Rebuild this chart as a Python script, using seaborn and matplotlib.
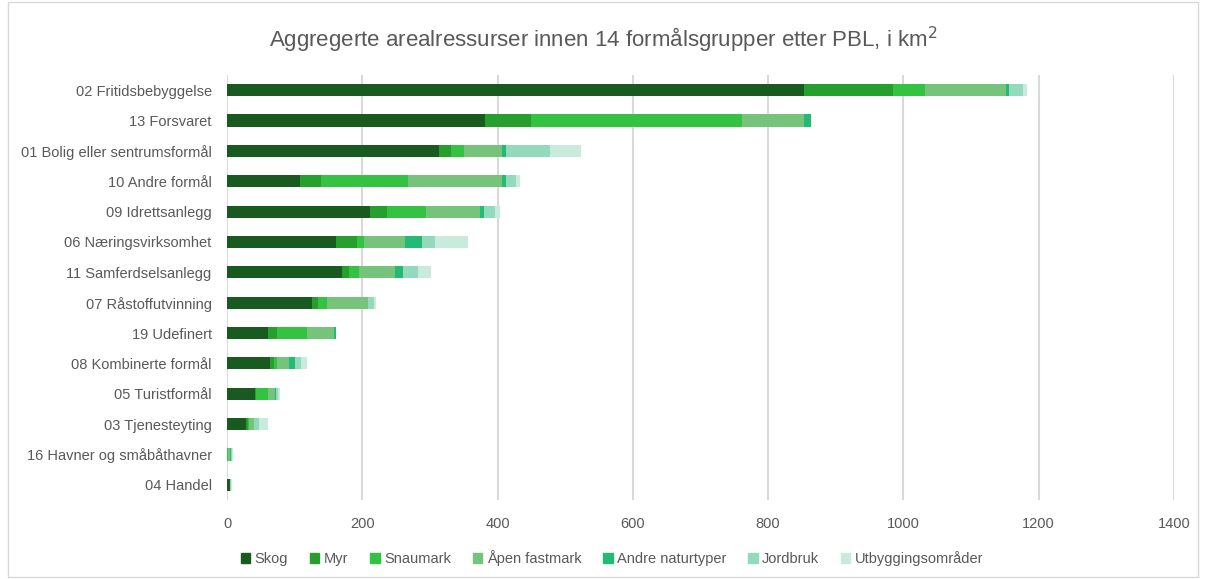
import numpy as np
import pandas as pd
import matplotlib
matplotlib.use("Agg")
import matplotlib.pyplot as plt
import matplotlib.patches as mpatches
import seaborn as sns

categories = ["02 Fritidsbebyggelse", "13 Forsvaret", "01 Bolig eller sentrumsformål",
              "10 Andre formål", "09 Idrettsanlegg", "06 Næringsvirksomhet",
              "11 Samferdselsanlegg", "07 Råstoffutvinning", "19 Udefinert",
              "08 Kombinerte formål", "05 Turistformål", "03 Tjenesteyting",
              "16 Havner og småbåthavner", "04 Handel"]

series_names = ["Skog", "Myr", "Snaumark", "Åpen fastmark", "Andre naturtyper",
                "Jordbruk", "Utbyggingsområder"]

skog     = [853, 382, 313, 108, 211, 161, 170, 125, 61, 64, 41, 28.5, 0.5, 4]
myr      = [131, 68, 18, 31, 26, 31, 11, 9, 13, 6, 2, 3, 0, 0.5]
snaumark = [48, 312, 20, 129, 57, 11, 13.5, 14, 45, 4, 17, 1, 0.5, 0]
apen     = [120, 91, 56, 139, 80, 60, 53.5, 61, 39, 18, 11, 8, 4, 0.5]
andre    = [4, 11, 6, 6, 6, 25, 12, 0, 3, 9, 1, 0, 0.5, 0]
jordbruk = [21, 0, 64, 14, 16, 19, 23, 9, 0, 8, 3.5, 7.5, 1.5, 1]
utbygg   = [6, 0, 46, 6, 7, 50, 18, 3, 0, 9, 3, 13, 1.5, 1]

colors = ["#195A20", "#279F2E", "#33C242", "#76C47B", "#22BA75", "#93D9BB", "#C8EBDC"]

xticks = [0, 200, 400, 600, 800, 1000, 1200, 1400]

sns.set_theme(style="white")
plt.rcParams['font.family'] = ['Liberation Sans', 'DejaVu Sans']

values = np.array([skog, myr, snaumark, apen, andre, jordbruk, utbygg], dtype=float)
cum = np.cumsum(values, axis=0)

fig = plt.figure(figsize=(12.06, 5.79), dpi=100)
ax = fig.add_axes([227/1206, 1-500/579, (1174-227)/1206, 425/579])

for i in range(len(series_names) - 1, -1, -1):
    df = pd.DataFrame({"cat": categories, "val": cum[i]})
    sns.barplot(data=df, x="val", y="cat", order=categories, color=colors[i],
                width=0.4, ax=ax, saturation=1, edgecolor="none", linewidth=0,
                zorder=3)

ax.set_xlim(0, 1400)
ax.set_ylim(13.5, -0.5)
ax.set_xticks(xticks)
ax.set_xticklabels([str(t) for t in xticks], fontsize=10.5, color="#595959")
ax.set_yticklabels(categories, fontsize=10.5, color="#595959")
ax.set_xlabel("")
ax.set_ylabel("")
ax.tick_params(axis="y", length=0, pad=11)
ax.tick_params(axis="x", length=0, pad=12)
ax.xaxis.grid(True, color="#D9D9D9", linewidth=1.5, zorder=0)
ax.yaxis.grid(False)
for s in ax.spines.values():
    s.set_visible(False)

fig.text(0.5, 1-40/579, "Aggregerte arealressurser innen 14 formålsgrupper etter PBL, i km$^2$",
         ha="center", va="center", fontsize=16, color="#595959")

handles = [mpatches.Patch(color=c, label=n) for c, n in zip(colors, series_names)]
fig.legend(handles=handles, loc="center", bbox_to_anchor=(612/1206, 1-558/579), ncol=7,
           frameon=False, fontsize=10.5, handlelength=0.65, handleheight=0.65,
           handletextpad=0.3, columnspacing=1.5, labelcolor="#595959")

fig.patches.append(mpatches.Rectangle((8/1206, 2/579), 1190/1206, 575/579,
                                      transform=fig.transFigure, fill=False,
                                      edgecolor="#D9D9D9", linewidth=1))

fig.savefig("out.png", dpi=100)
